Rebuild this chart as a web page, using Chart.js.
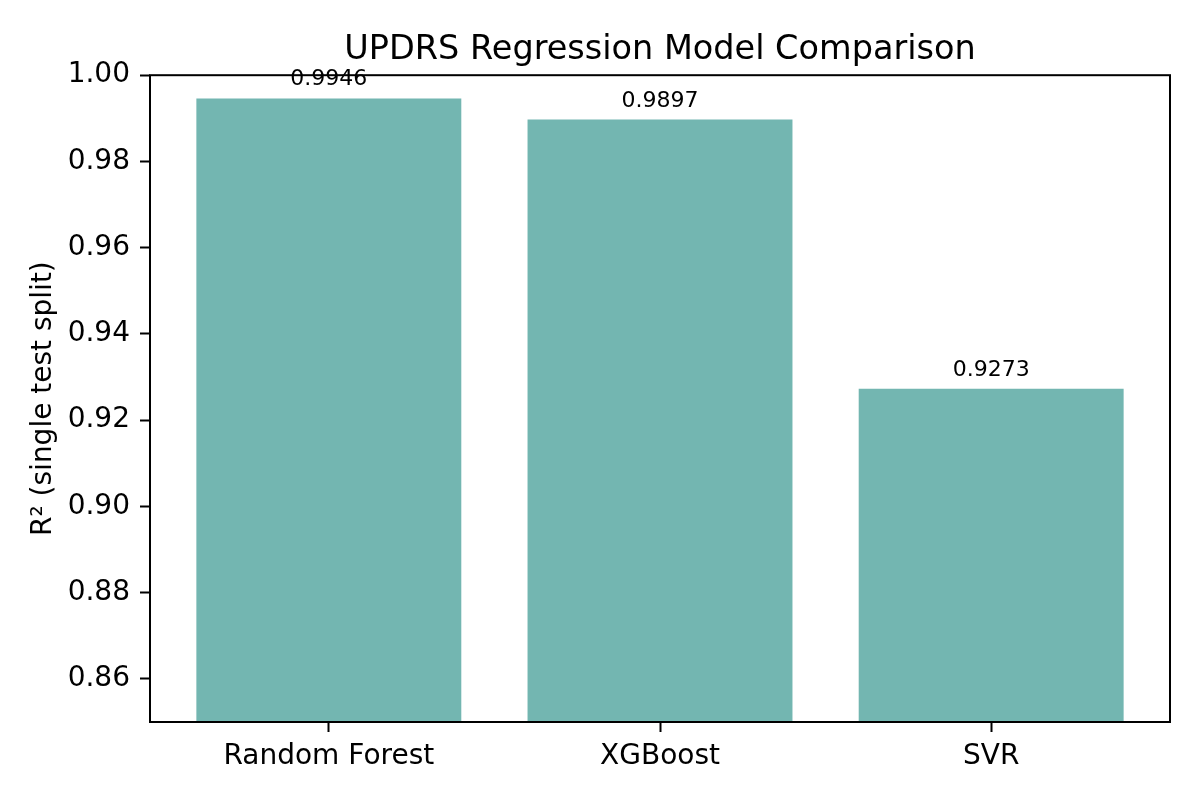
<!DOCTYPE html>
<html>
<head>
<meta charset="utf-8">
<script src="https://cdn.jsdelivr.net/npm/chart.js@4.4.1/dist/chart.umd.min.js"></script>
<style>
  html, body { margin: 0; padding: 0; background: #fff; }
  #chart { display: block; }
</style>
</head>
<body>
<canvas id="chart" width="1200" height="800"></canvas>
<script>
// data
const models = ['Random Forest', 'XGBoost', 'SVR'];
const r2Scores = [0.9946, 0.9897, 0.9273];
const yTickValues = [0.86, 0.88, 0.90, 0.92, 0.94, 0.96, 0.98, 1.00];

const FONT = "'DejaVu Sans', 'Liberation Sans', sans-serif";
const barColor = '#73b6b1';

// value text above each bar
const valueLabels = {
    id: 'valueLabels',
    afterDatasetsDraw(chart) {
        const ctx = chart.ctx;
        const meta = chart.getDatasetMeta(0);
        ctx.save();
        ctx.font = '22px ' + FONT;
        ctx.fillStyle = '#000';
        ctx.textAlign = 'center';
        ctx.textBaseline = 'alphabetic';
        meta.data.forEach((bar, i) => {
            ctx.fillText(r2Scores[i].toFixed(4), bar.x, bar.y - 13);
        });
        ctx.restore();
    }
};

// box around the plot area, like matplotlib spines
const frame = {
    id: 'frame',
    afterDatasetsDraw(chart) {
        const a = chart.chartArea;
        const ctx = chart.ctx;
        ctx.save();
        ctx.strokeStyle = '#000';
        ctx.lineWidth = 2;
        ctx.strokeRect(a.left, a.top, a.right - a.left, a.bottom - a.top);
        ctx.restore();
    }
};

new Chart(document.getElementById('chart'), {
    type: 'bar',
    data: {
        datasets: [{
            data: r2Scores.map((v, i) => ({ x: i, y: v })),
            backgroundColor: barColor,
            borderWidth: 0,
            barPercentage: 0.8,
            categoryPercentage: 1.0
        }]
    },
    options: {
        responsive: false,
        animation: false,
        layout: { padding: { left: 0, right: 30, top: 0, bottom: 0 } },
        plugins: {
            legend: { display: false },
            tooltip: { enabled: false },
            title: {
                display: true,
                text: 'UPDRS Regression Model Comparison',
                color: '#000',
                fullSize: false,
                font: { family: FONT, size: 33.5, weight: 'normal' },
                padding: { top: 30, bottom: 5 }
            }
        },
        scales: {
            x: {
                type: 'linear',
                min: -0.54,
                max: 2.54,
                offset: false,
                afterBuildTicks: axis => { axis.ticks = models.map((m, i) => ({ value: i })); },
                afterFit: scale => { scale.height = 78; },
                border: { display: false },
                grid: { offset: false, drawOnChartArea: false, drawTicks: true, tickLength: 10, tickWidth: 2, tickColor: '#000' },
                ticks: {
                    color: '#000',
                    padding: 8,
                    maxRotation: 0,
                    font: { family: FONT, size: 28 },
                    callback: v => models[v]
                }
            },
            y: {
                min: 0.85,
                max: 1.00,
                afterBuildTicks: axis => { axis.ticks = yTickValues.map(v => ({ value: v })); },
                afterFit: scale => { scale.width = 150; },
                border: { display: false },
                grid: { drawOnChartArea: false, drawTicks: true, tickLength: 10, tickWidth: 2, tickColor: '#000' },
                ticks: {
                    color: '#000',
                    padding: 10,
                    font: { family: FONT, size: 28 },
                    callback: v => Number(v).toFixed(2)
                },
                title: {
                    display: true,
                    text: 'R² (single test split)',
                    color: '#000',
                    font: { family: FONT, size: 28 },
                    padding: { top: 27, bottom: 0 }
                }
            }
        }
    },
    plugins: [valueLabels, frame]
});
</script>
</body>
</html>
